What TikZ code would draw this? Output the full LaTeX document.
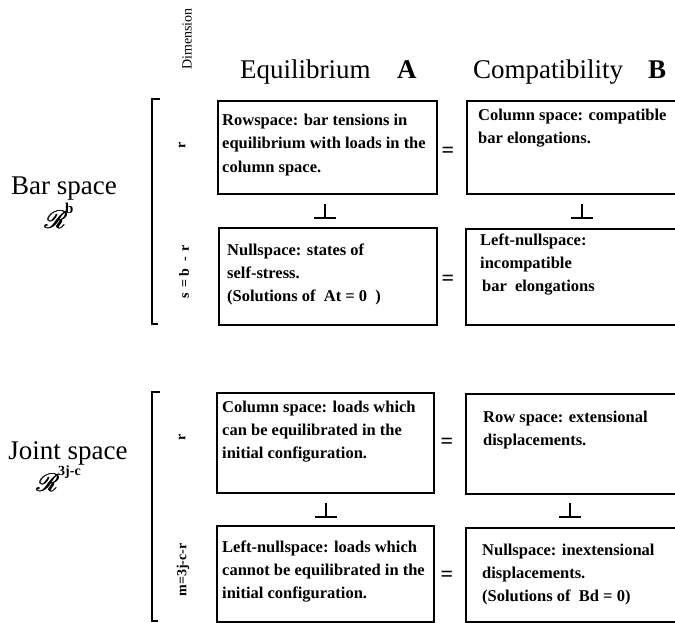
\documentclass[tikz,border=0pt]{standalone}
\usepackage{fontspec}
\setmainfont{Liberation Serif}
\usepackage{mathrsfs}
\newcommand\boxlines[4]{%
  \foreach \ln [count=\k from 0] in {#4}{\node[txt] (#1-\k) at (#2,{#3+23*\k}) {\ln};}}
\newcommand\heavyR{\makebox[0pt][l]{$\mathscr{R}$}\hspace{0.5pt}\makebox[0pt][l]{$\mathscr{R}$}\hspace{0.5pt}$\mathscr{R}$}
\begin{document}
\begin{tikzpicture}[x=1pt,y=-1pt,
  box/.style={draw, line width=1.8pt, inner sep=0pt, anchor=north west},
  txt/.style={anchor=base west, inner sep=0pt, font=\bfseries\fontsize{16.5}{20}\selectfont},
  head/.style={anchor=base west, inner sep=0pt, font=\fontsize{27}{30}\selectfont},
  side/.style={inner sep=0pt, font=\fontsize{27}{30}\selectfont},
  dimlab/.style={inner sep=0pt, rotate=90, font=\fontsize{14}{16}\selectfont\bfseries},
  eqsign/.style={inner sep=0pt, font=\bfseries\fontsize{22}{22}\selectfont},
  perpline/.style={line width=1.8pt},
  bracket/.style={line width=1.6pt}]
\useasboundingbox (0,0) rectangle (675,623);
\clip (0,0) rectangle (675,623);

% column headings
\node[inner sep=0pt, rotate=90, font=\fontsize{14}{15}\selectfont] (dim) at (187,39) {Dimension};
\node[head] (eqA) at (240,79) {Equilibrium};
\node[head] (eqAb) at (397,79) {\bfseries A};
\node[head] (coB) at (473,79) {Compatibility};
\node[head] (coBb) at (648,79) {\bfseries B};

% side labels
\node[side, anchor=base] (bar) at (64,194) {Bar space};
\node[inner sep=0pt] (barR) at (56,220) {\fontsize{26}{26}\selectfont\heavyR};
\node[inner sep=0pt, anchor=west, font=\bfseries\fontsize{15}{15}\selectfont] (barb) at (65,208) {b};
\node[side, anchor=base] (joint) at (68,459) {Joint space};
\node[inner sep=0pt] (jointR) at (48,483) {\fontsize{26}{26}\selectfont\heavyR};
\node[inner sep=0pt, anchor=west, font=\bfseries\fontsize{14}{14}\selectfont] (jointe) at (58,472) {3j-c};

% brackets
\draw[bracket] (160,99) -- (152,99) -- (152,324) -- (158,324);
\draw[bracket] (160,392) -- (152,392) -- (152,621) -- (158,621);

% dimension labels
\node[dimlab] (d1) at (182,145) {r};
\node[dimlab] (d2) at (184,272) {s\hspace{2pt} = b\hspace{3pt} - \hspace{2pt}r};
\node[dimlab] (d3) at (182,437) {r};
\node[dimlab] (d4) at (183,570) {m=3j-c-r};

% boxes
\node[box, minimum width=219pt, minimum height=93pt] (A1) at (217,100) {};
\node[box, minimum width=240pt, minimum height=93pt] (B1) at (466,100) {};
\node[box, minimum width=218pt, minimum height=97pt] (A2) at (218,227) {};
\node[box, minimum width=240pt, minimum height=96pt] (B2) at (465,228) {};
\node[box, minimum width=217pt, minimum height=100pt] (A3) at (216,392) {};
\node[box, minimum width=240pt, minimum height=100pt] (B3) at (465,393) {};
\node[box, minimum width=217pt, minimum height=96pt] (A4) at (216,525) {};
\node[box, minimum width=240pt, minimum height=94pt] (B4) at (465,527) {};

% box texts
\boxlines{tA1}{222}{126}{{Rowspace: bar tensions in},{equilibrium with loads in the},{column space.}}
\boxlines{tB1}{478}{121}{{Column space: compatible},{bar elongations.}}
\boxlines{tA2}{227}{255}{{Nullspace: states of},{self-stress.},{(Solutions of\ \ At = 0\ \ )}}
\boxlines{tB2}{480}{245}{{Left-nullspace:},{incompatible},{\hspace{2pt}bar\hspace{4pt} elongations}}
\boxlines{tA3}{222}{412}{{Column space: loads which},{can be equilibrated in the},{initial configuration.}}
\boxlines{tB3}{483}{422}{{Row space: extensional},{displacements.}}
\boxlines{tA4}{222}{552}{{Left-nullspace: loads which},{cannot be equilibrated in the},{initial configuration.}}
\boxlines{tB4}{482}{555}{{Nullspace: inextensional},{displacements.},{(Solutions of\ \ Bd = 0)}}

% equality signs
\node[eqsign] (e1) at (448,152) {=};
\node[eqsign] (e2) at (448,280) {=};
\node[eqsign] (e3) at (447,443) {=};
\node[eqsign] (e4) at (447,576) {=};

% orthogonality symbols
\draw[perpline] (325,204) -- (325,218) (314,218) -- (336,218);
\draw[perpline] (582,204) -- (582,218) (571,218) -- (593,218);
\draw[perpline] (326,503) -- (326,517) (315,517) -- (337,517);
\draw[perpline] (570,503) -- (570,517) (559,517) -- (581,517);
\end{tikzpicture}
\end{document}
